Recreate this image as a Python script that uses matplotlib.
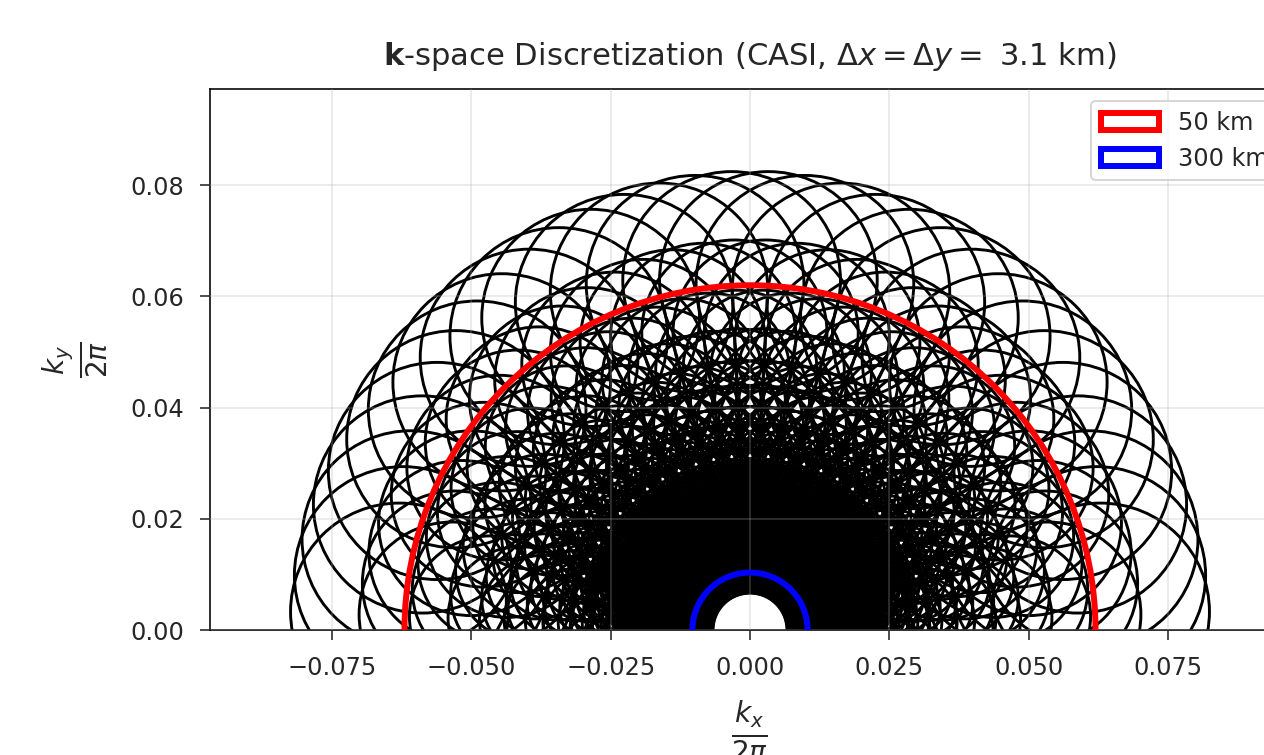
import matplotlib
matplotlib.use("Agg")
import matplotlib.pyplot as plt
from matplotlib.patches import Circle, Patch
import numpy as np

# ring radii (k/2pi) of the discretized wavenumbers, outer to inner
ring_k = [0.0630, 0.0536, 0.0467, 0.0414, 0.0371, 0.0337, 0.0308, 0.0284,
          0.0263, 0.0245, 0.0230, 0.0216, 0.0204, 0.0193, 0.0183, 0.0175,
          0.0166, 0.0159, 0.0152, 0.0146, 0.0141, 0.0135, 0.0131, 0.0126,
          0.0122, 0.0118, 0.0114, 0.0111, 0.0107, 0.0104, 0.0101, 0.0099,
          0.0096]
# propagation directions (degrees)
directions = [3, 9, 15, 21, 27, 33, 39, 45, 51, 57, 63, 69, 75, 81, 87,
              93, 99, 105, 111, 117, 123, 129, 135, 141, 147, 153, 159, 165,
              171, 177]
cell_frac = 0.31  # resolution circle radius relative to |k|

dx = 3.1  # km
ref_wavelengths = [50, 300]  # km
ref_colors = ['red', 'blue']

plt.rcParams['text.color'] = '#262626'
plt.rcParams['axes.labelcolor'] = '#262626'
plt.rcParams['xtick.color'] = '#262626'
plt.rcParams['ytick.color'] = '#262626'

fig = plt.figure(figsize=(1264 / 144, 755 / 144), dpi=144)
ax = fig.add_axes([210 / 1264, 125 / 755, 1080 / 1264, 541 / 755])

for k in ring_k:
    for d in directions:
        th = np.deg2rad(d)
        ax.add_patch(Circle((k * np.cos(th), k * np.sin(th)), cell_frac * k,
                            fill=False, edgecolor='black', lw=1.45))

handles = []
for lam, c in zip(ref_wavelengths, ref_colors):
    ax.add_patch(Circle((0, 0), dx / lam, fill=False, edgecolor=c, lw=3, zorder=3))
    handles.append(Patch(facecolor='none', edgecolor=c, lw=3, label=f'{lam} km'))

ax.set_xlim(-0.0969, 0.0969)
ax.set_ylim(0, 0.0973)
ax.set_xticks([-0.075, -0.05, -0.025, 0, 0.025, 0.05, 0.075])
ax.set_yticks([0, 0.02, 0.04, 0.06, 0.08])
ax.tick_params(labelsize=12, length=5, pad=8)
ax.set_axisbelow(False)
ax.grid(True, alpha=0.3)

ax.set_title(r'$\mathbf{k}$-space Discretization (CASI, $\Delta x = \Delta y = $ 3.1 km)',
             fontsize=15.3, pad=12)
ax.set_xlabel(r'$\frac{k_x}{2\pi}$', fontsize=20, labelpad=10)
ax.set_ylabel(r'$\frac{k_y}{2\pi}$', fontsize=20, labelpad=10)
ax.legend(handles=handles, loc='upper right', fontsize=12, handlelength=2.4)

fig.savefig('out.png', dpi=144)
